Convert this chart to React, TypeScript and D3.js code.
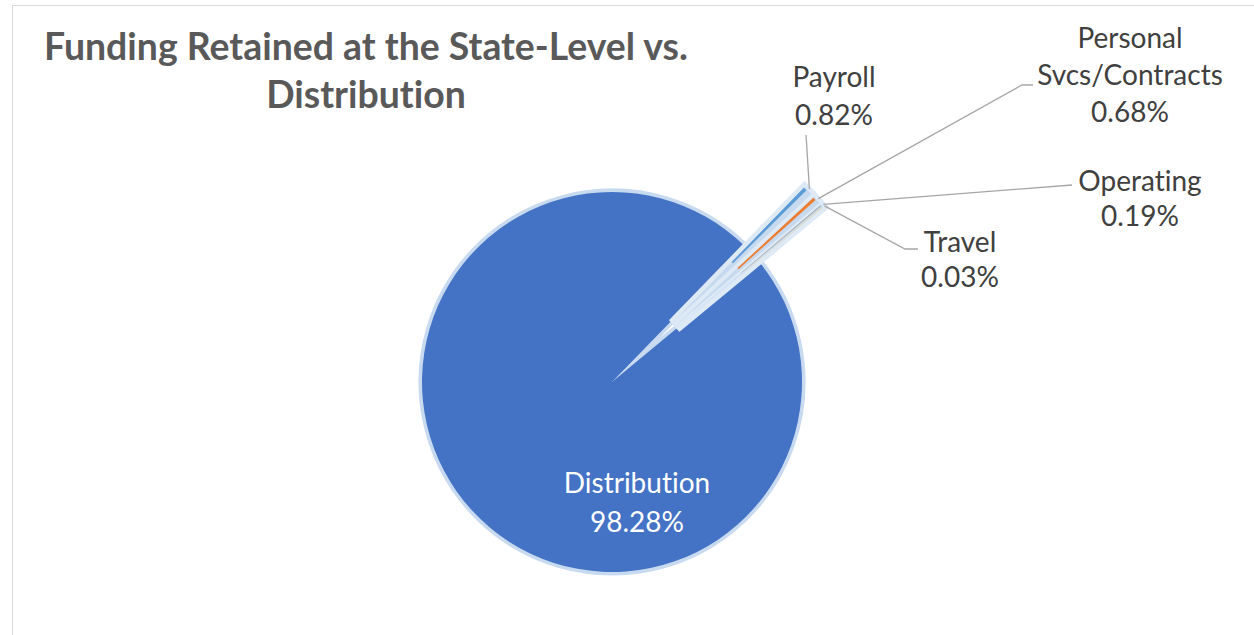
import React from "react";
import * as d3 from "d3";

// ---------- data ----------
const categories = ["Payroll", "Personal Svcs/Contracts", "Operating", "Travel", "Distribution"];
const values = [0.82, 0.68, 0.19, 0.03, 98.28];
const sliceColors = ["#5B9BD5", "#ED7D31", "#A5A5A5", "#FFC000", "#4472C4"];
const explodedFlags = [true, true, true, true, false];
const titleLines = ["Funding Retained at the State-Level vs.", "Distribution"];

// ---------- layout ----------
const W = 1254;
const H = 635;
const CX = 612;
const CY = 382;
const R = 190;
const EXPLODE = 84;
const START_DEG = 44.2;
const FONT = "Lato, 'Open Sans', sans-serif";
const LABEL_SIZE = 28;
const TITLE_SIZE = 37.4;

// label placement (center x, first baseline, line height, label-side leader points)
const labelLayout = [
  { x: 834, y: 87, lh: 38, leader: [[806, 135]], color: "#404040" },
  { x: 1130, y: 48, lh: 37, leader: [[1022, 85], [1033, 85]], color: "#404040" },
  { x: 1140, y: 191, lh: 35, leader: [[1072, 185]], color: "#404040" },
  { x: 960, y: 252, lh: 35, leader: [[905, 249], [918, 249]], color: "#404040" },
  { x: 637, y: 493, lh: 39, leader: [], color: "#FFFFFF" },
];

const rad = (d: number) => (d * Math.PI) / 180;

export default function App() {
  const data = categories.map((c, i) => ({ name: c, value: values[i], color: sliceColors[i], exploded: explodedFlags[i], idx: i }));
  const pie = d3
    .pie<any>()
    .sort(null)
    .value((d: any) => d.value)
    .startAngle(rad(START_DEG))
    .endAngle(rad(START_DEG) + 2 * Math.PI);
  const arcs = pie(data);
  const arcGen = d3.arc<any>().innerRadius(0).outerRadius(R);

  const offsetOf = (a: any) => {
    if (!a.data.exploded) return [0, 0];
    const m = (a.startAngle + a.endAngle) / 2;
    return [EXPLODE * Math.sin(m), -EXPLODE * Math.cos(m)];
  };

  const main = arcs.filter((a) => !a.data.exploded);
  const small = arcs.filter((a) => a.data.exploded);

  return (
    <svg
      width={W}
      height={H}
      style={{ position: "absolute", left: 0, top: 0, background: "#fff", fontVariantLigatures: "none", fontFeatureSettings: "'liga' 0" }}
      fontFamily={FONT}
    >
      <rect x={0} y={0} width={W} height={H} fill="#fff" />
      <rect x={12.5} y={5.5} width={W + 100} height={H + 100} fill="#fff" stroke="#D9D9D9" strokeWidth={1} />

      {/* title */}
      <text x={366} y={60} textAnchor="middle" fontSize={TITLE_SIZE} fontWeight={700} fill="#595959">
        {titleLines[0]}
      </text>
      <text x={366} y={108} textAnchor="middle" fontSize={TITLE_SIZE} fontWeight={700} fill="#595959">
        {titleLines[1]}
      </text>

      <g transform={`translate(${CX},${CY})`}>
        {/* main slice with glow rim */}
        {main.map((a) => (
          <path
            key={a.data.name}
            d={arcGen(a) as string}
            fill={a.data.color}
            stroke="#C7DAF0"
            strokeWidth={7}
            strokeLinejoin="round"
            style={{ paintOrder: "stroke" }}
          />
        ))}
        {/* exploded slices: glow */}
        {small.map((a) => {
          const [dx, dy] = offsetOf(a);
          return (
            <path
              key={"g" + a.data.name}
              transform={`translate(${dx},${dy})`}
              d={arcGen(a) as string}
              fill="#DEE9F6"
              stroke="#DEE9F6"
              strokeWidth={9}
              strokeLinejoin="miter"
              strokeMiterlimit={2}
            />
          );
        })}
        {small.map((a) => {
          const [dx, dy] = offsetOf(a);
          return (
            <path
              key={"f" + a.data.name}
              transform={`translate(${dx},${dy})`}
              d={arcGen(a) as string}
              fill="#C6D9EF"
            />
          );
        })}
        {/* colored edge strips */}
        {small.map((a) => {
          const [dx, dy] = offsetOf(a);
          const span = a.endAngle - a.startAngle;
          const w = Math.min(rad(1.1), span * 0.4);
          const strip = d3
            .arc<any>()
            .innerRadius(R * 0.45)
            .outerRadius(R - 1)
            .startAngle(a.startAngle)
            .endAngle(a.startAngle + w);
          return (
            <path
              key={"s" + a.data.name}
              transform={`translate(${dx},${dy})`}
              d={strip(a) as string}
              fill={a.data.color}
            />
          );
        })}
      </g>

      {/* leader lines */}
      {arcs.map((a, i) => {
        const lay = labelLayout[i];
        if (!lay.leader.length) return null;
        const [dx, dy] = offsetOf(a);
        const m = (a.startAngle + a.endAngle) / 2;
        const sx = CX + dx + (R + 2) * Math.sin(m);
        const sy = CY + dy - (R + 2) * Math.cos(m);
        const pts: [number, number][] = [[sx, sy], ...(lay.leader as [number, number][])];
        return (
          <path
            key={"l" + a.data.name}
            d={d3.line()(pts) as string}
            fill="none"
            stroke="#A6A6A6"
            strokeWidth={1.3}
          />
        );
      })}

      {/* labels */}
      {arcs.map((a, i) => {
        const lay = labelLayout[i];
        const lines = [...a.data.name.split(" "), a.data.value.toFixed(2) + "%"];
        return (
          <text key={"t" + a.data.name} textAnchor="middle" fontSize={LABEL_SIZE} fill={lay.color}>
            {lines.map((ln: string, k: number) => (
              <tspan key={k} x={lay.x} y={lay.y + k * lay.lh}>
                {ln}
              </tspan>
            ))}
          </text>
        );
      })}
    </svg>
  );
}
